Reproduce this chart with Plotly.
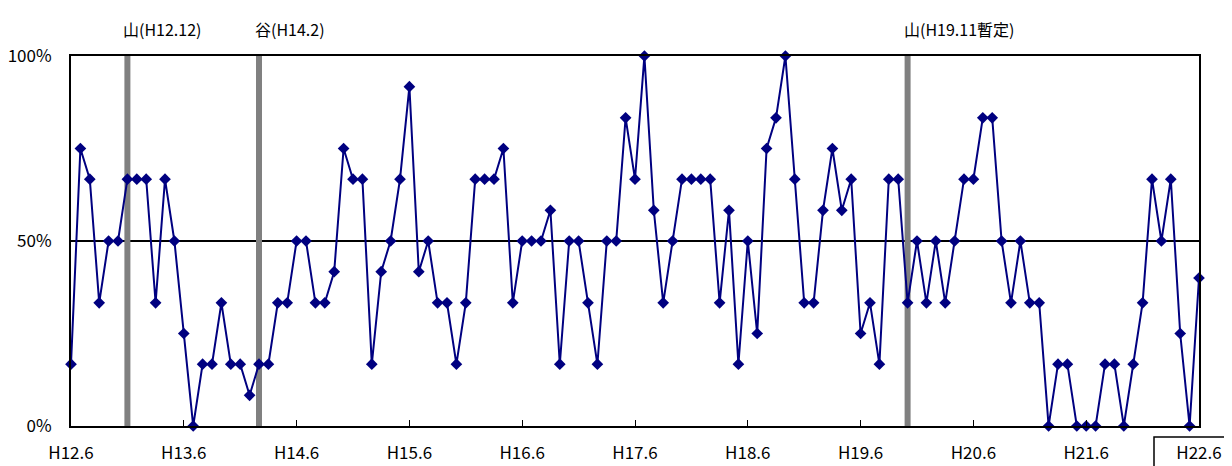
import plotly.graph_objects as go

# Monthly diffusion-style index, H12.6 .. H22.6 (121 months), in %
values = [
    16.7, 75.0, 66.7, 33.3, 50.0, 50.0, 66.7, 66.7, 66.7, 33.3, 66.7, 50.0,   # H12.6-H13.5
    25.0, 0.0, 16.7, 16.7, 33.3, 16.7, 16.7, 8.3, 16.7, 16.7, 33.3, 33.3,     # H13.6-H14.5
    50.0, 50.0, 33.3, 33.3, 41.7, 75.0, 66.7, 66.7, 16.7, 41.7, 50.0, 66.7,   # H14.6-H15.5
    91.7, 41.7, 50.0, 33.3, 33.3, 16.7, 33.3, 66.7, 66.7, 66.7, 75.0, 33.3,   # H15.6-H16.5
    50.0, 50.0, 50.0, 58.3, 16.7, 50.0, 50.0, 33.3, 16.7, 50.0, 50.0, 83.3,   # H16.6-H17.5
    66.7, 100.0, 58.3, 33.3, 50.0, 66.7, 66.7, 66.7, 66.7, 33.3, 58.3, 16.7,  # H17.6-H18.5
    50.0, 25.0, 75.0, 83.3, 100.0, 66.7, 33.3, 33.3, 58.3, 75.0, 58.3, 66.7,  # H18.6-H19.5
    25.0, 33.3, 16.7, 66.7, 66.7, 33.3, 50.0, 33.3, 50.0, 33.3, 50.0, 66.7,   # H19.6-H20.5
    66.7, 83.3, 83.3, 50.0, 33.3, 50.0, 33.3, 33.3, 0.0, 16.7, 16.7, 0.0,     # H20.6-H21.5
    0.0, 0.0, 16.7, 16.7, 0.0, 16.7, 33.3, 66.7, 50.0, 66.7, 25.0, 0.0,       # H21.6-H22.5
    40.0,                                                                     # H22.6
]
months = list(range(len(values)))

tick_positions = [0, 12, 24, 36, 48, 60, 72, 84, 96, 108, 120]
tick_labels = ["H12.6", "H13.6", "H14.6", "H15.6", "H16.6", "H17.6",
               "H18.6", "H19.6", "H20.6", "H21.6", "H22.6"]

turning_points = [6, 20, 89]
turning_labels = ["山(H12.12)", "谷(H14.2)", "山(H19.11暫定)"]

y_ticks = [0, 50, 100]
y_tick_labels = ["0%", "50%", "100%"]

FONT = "Noto Sans CJK JP"

fig = go.Figure()

for tp in turning_points:
    fig.add_trace(go.Scatter(
        x=[tp, tp], y=[0, 100], mode="lines",
        line=dict(color="#808080", width=6),
        hoverinfo="skip", showlegend=False, cliponaxis=True,
    ))

fig.add_trace(go.Scatter(
    x=months, y=values, mode="lines+markers",
    line=dict(color="#000080", width=2),
    marker=dict(symbol="diamond", size=9, color="#000080"),
    showlegend=False, cliponaxis=False,
))

for tp, lab in zip(turning_points, turning_labels):
    fig.add_annotation(
        x=tp, xref="x", y=1, yref="paper", text=lab, showarrow=False,
        xanchor="left", yanchor="middle", xshift=-6, yshift=27,
        font=dict(family=FONT, size=16, color="black"),
    )

# framed label box around the last tick label
fig.add_shape(
    type="rect", xref="paper", yref="paper",
    x0=(1154 - 71) / 1128, x1=1.2, y0=-(437 - 426) / 370, y1=-0.4,
    line=dict(color="black", width=1.5), fillcolor="rgba(0,0,0,0)",
)

# the page body has an 8px default margin, so the figure is 8px smaller
fig.update_layout(
    width=1224, height=458,
    margin=dict(l=63, r=33, t=48, b=40, autoexpand=False),
    paper_bgcolor="white", plot_bgcolor="white",
    font=dict(family=FONT, size=17, color="black"),
    showlegend=False,
)

fig.update_xaxes(
    range=[0, 120], tickvals=tick_positions, ticktext=tick_labels,
    showgrid=False, zeroline=False, automargin=False,
    showline=True, mirror=True, linecolor="black", linewidth=2,
    ticks="inside", ticklen=6, tickcolor="black", tickwidth=1,
    tickfont=dict(family=FONT, size=17, color="black"),
    ticklabelstandoff=11,
)
fig.update_yaxes(
    range=[0, 100], tickvals=y_ticks, ticktext=y_tick_labels,
    showgrid=True, gridcolor="black", gridwidth=1.5, zeroline=False,
    showline=True, mirror=True, linecolor="black", linewidth=2,
    ticks="", automargin=False,
    tickfont=dict(family=FONT, size=17, color="black"),
    ticklabelstandoff=14,
)

fig.write_html("out.html")
